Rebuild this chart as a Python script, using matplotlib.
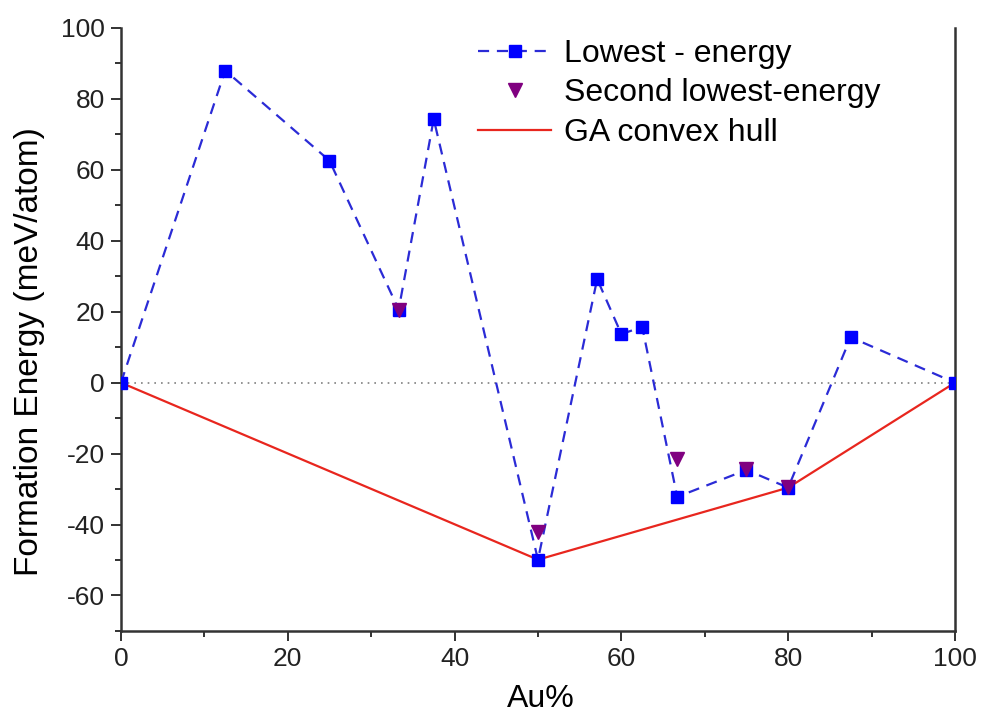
import matplotlib
matplotlib.use("Agg")
import matplotlib.pyplot as plt
from matplotlib.ticker import MultipleLocator

plt.rcParams['font.family'] = ['Liberation Sans', 'DejaVu Sans']
plt.rcParams['axes.unicode_minus'] = False

au_low = [0, 12.5, 25, 33.3, 37.5, 50, 57.1, 60, 62.5, 66.7, 75, 80, 87.5, 100]
e_low = [0, 88.0, 62.6, 20.6, 74.3, -49.9, 29.2, 13.7, 15.7, -32.2, -24.6, -29.6, 12.8, 0]

au_second = [33.3, 50, 66.7, 75, 80]
e_second = [20.6, -42.0, -21.4, -24.4, -29.4]

au_hull = [0, 50, 80, 100]
e_hull = [0, -49.9, -29.6, 0]

fig = plt.figure(figsize=(9.85, 7.17), dpi=100)
ax = fig.add_axes([0.1228, 0.12, 0.8467, 0.841])

ax.axhline(0, color='#808080', linestyle=(0, (1, 3)), linewidth=1.2, zorder=1)
ax.plot(au_hull, e_hull, color='#e8261e', linewidth=1.6, label='GA convex hull', zorder=2)
ax.plot(au_low, e_low, color='#2b2bd6', linestyle=(0, (5, 3.5)), linewidth=1.6,
        marker='s', markersize=8, markerfacecolor='#0000ff', markeredgecolor='#0000ff',
        label='Lowest - energy', zorder=3)
ax.plot(au_second, e_second, linestyle='none', marker='v', markersize=10,
        color='#800080', label='Second lowest-energy', zorder=4)

ax.set_xlim(0, 100)
ax.set_ylim(-70, 100)
ax.xaxis.set_major_locator(MultipleLocator(20))
ax.xaxis.set_minor_locator(MultipleLocator(10))
ax.yaxis.set_major_locator(MultipleLocator(20))
ax.yaxis.set_minor_locator(MultipleLocator(10))
ax.tick_params(which='major', direction='out', length=7.5, width=1.3, labelsize=19,
               pad=4, colors='#222222')
ax.tick_params(which='minor', direction='out', length=4, width=1.3, colors='#222222')
ax.spines['top'].set_visible(False)
for s in ['left', 'bottom', 'right']:
    ax.spines[s].set_linewidth(1.8)
    ax.spines[s].set_color('#333333')

ax.set_xlabel('Au%', fontsize=23)
ax.set_ylabel('Formation Energy (meV/atom)', fontsize=24)
ax.xaxis.set_label_coords(0.504, -0.088)
ax.yaxis.set_label_coords(-0.091, 0.464)

handles, labels = ax.get_legend_handles_labels()
order = [1, 2, 0]
ax.legend([handles[i] for i in order], [labels[i] for i in order],
          loc='upper left', bbox_to_anchor=(0.428, 0.982), frameon=False,
          borderaxespad=0, borderpad=0,
          fontsize=23, handlelength=2.3, handletextpad=0.4, labelspacing=0.3)

fig.savefig('out.png', dpi=100)
